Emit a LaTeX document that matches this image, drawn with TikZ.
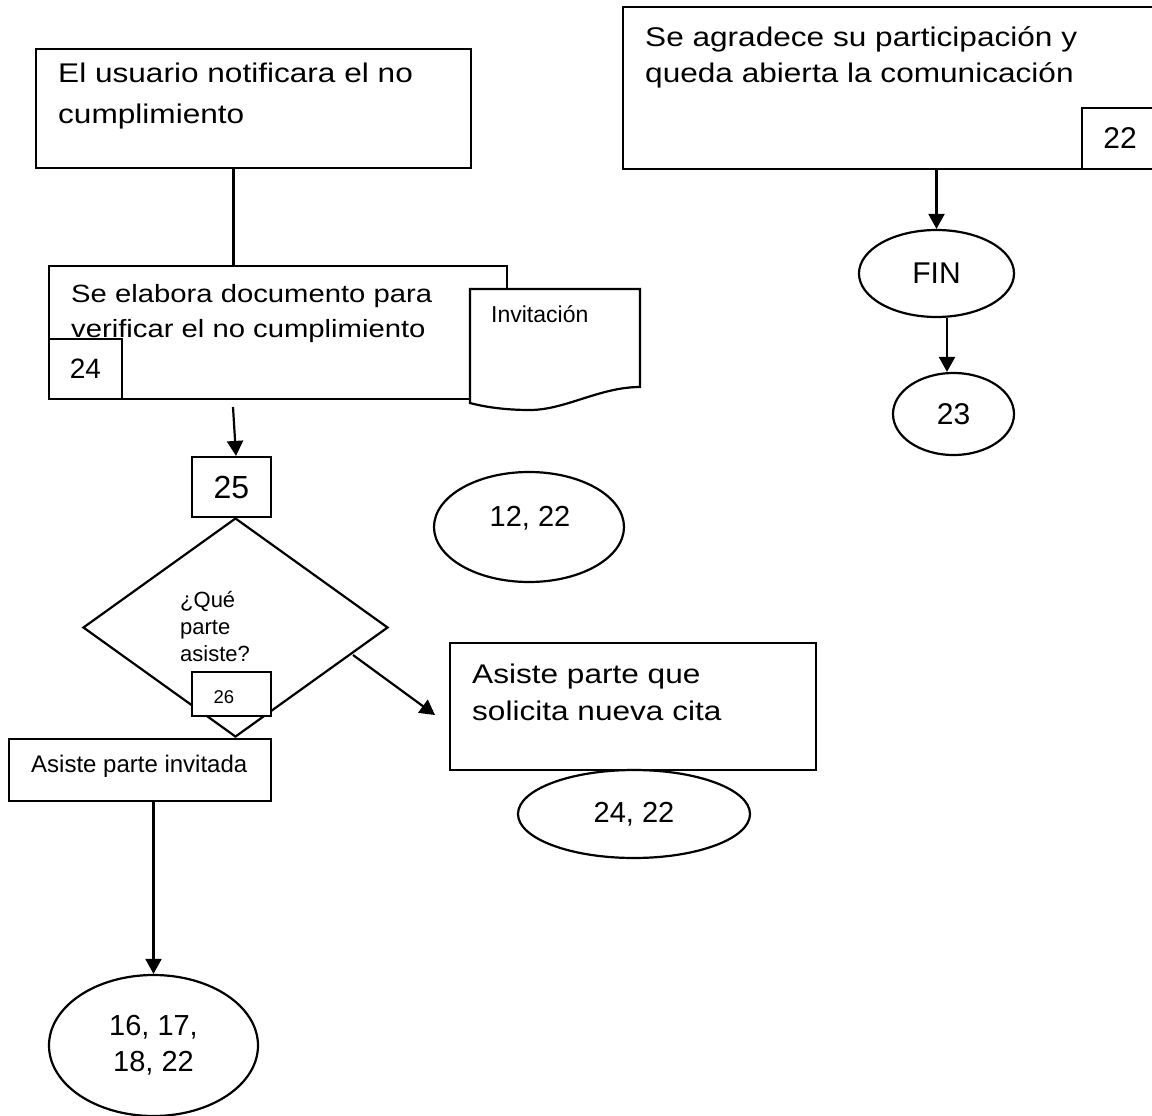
\documentclass[tikz,border=0pt]{standalone}
\usepackage{fontspec}
\setmainfont{Liberation Sans}
\newfontfamily\widefont[FakeStretch=1.17]{Liberation Sans}
\usetikzlibrary{arrows.meta, shapes.geometric}
\tikzset{
  outline/.style = {draw, fill=white, line width=2.2pt},
  box/.style     = {outline, rectangle, inner sep=0pt},
  oval/.style    = {outline, ellipse, inner sep=0pt},
  para/.style    = {anchor=base west, align=left, inner sep=0pt,
                    font=\widefont\fontsize{27}{38}\selectfont},
  parasm/.style  = {anchor=base west, align=left, inner sep=0pt,
                    font=\widefont\fontsize{25}{35}\selectfont},
  num/.style     = {font=\fontsize{29}{36}\selectfont, align=center},
  link/.style    = {line width=2.2pt},
  arrow/.style   = {-{Triangle[length=15pt, width=16pt]}, line width=2.2pt},
}

\begin{document}
\begin{tikzpicture}[x=1pt, y=-1pt]
  \useasboundingbox (0,0) rectangle (1152,1116);

  % left column: notification and document
  \node[box, minimum width=435pt, minimum height=119pt] (usuario) at (253.5,108.5) {};
  % (base of a multi-line node = its last line)
  \node[para, font=\widefont\fontsize{27}{40}\selectfont] (tusuario) at (58,123) {El usuario notificara el no\\cumplimiento};
  \coordinate (jA) at (233.5,0);
  \node[box, minimum width=458pt, minimum height=133pt] (elabora) at (278,332.5) {};
  \draw[link] (usuario.south -| jA) -- (elabora.north -| jA);
  \node[box, minimum width=73pt, minimum height=60pt, num, font=\fontsize{28}{34}\selectfont] (b24) at (85.5,369) {24};
  \node[parasm] (telabora) at (71,337) {Se elabora documento para\\verificar el no cumplimiento};
  % document symbol
  \draw[outline] (470,289) -- (640,289) -- (640,387)
    .. controls (600,387) and (565,410) .. (530,410)
    .. controls (505,410) and (485,407) .. (470,403) -- cycle;
  \node[anchor=base west, inner sep=0pt, font=\fontsize{23}{28}\selectfont] (tinv) at (491,322) {Invitación};

  % decision
  \node[box, minimum width=79pt, minimum height=60pt, font=\fontsize{32}{38}\selectfont] (b25) at (231.5,487) {25};
  \coordinate (a25) at (233,407);
  \draw[arrow] (a25) -- (b25.north -| 236,0);
  \node[outline, diamond, inner sep=0pt, minimum width=305pt, minimum height=219pt] (dec) at (235.5,627.5) {};
  \node[anchor=base west, align=left, inner sep=0pt, font=\fontsize{22}{27}\selectfont] (tdec) at (180,661) {¿Qué\\parte\\asiste?};
  \node[box, minimum width=79pt, minimum height=44pt] (b26) at (231.5,694) {};
  \node[font=\fontsize{18.5}{22}\selectfont, inner sep=0pt] (t26) at (224,697) {26};

  % invited party
  \node[box, minimum width=262pt, minimum height=62pt] (invitada) at (140,770) {};
  \node[anchor=base west, inner sep=0pt, font=\fontsize{24}{28}\selectfont] (tinvitada) at (31,772) {Asiste parte invitada};
  \node[oval, minimum width=209pt, minimum height=141pt, num] (e16) at (153.5,1045.5) {16, 17,\\18, 22};
  \draw[arrow] (invitada.south -| e16.north) -- (e16.north);

  % requesting party
  \coordinate (q1) at (353,655);
  \coordinate (q2) at (435,715);
  \draw[arrow] (q1) -- (q2);
  \node[box, minimum width=366pt, minimum height=127pt] (solicita) at (633,706.5) {};
  \node[para, font=\widefont\fontsize{27}{37}\selectfont] (tsolicita) at (472,720) {Asiste parte que\\solicita nueva cita};
  \node[oval, minimum width=232pt, minimum height=88pt, num] (e24) at (634,814) {24, 22};

  \node[oval, minimum width=190pt, minimum height=110pt] (e12) at (529,527) {};
  \node[num, inner sep=0pt] (t12) at (530,518) {12, 22};

  % right column: closing
  \node[box, minimum width=537pt, minimum height=162pt] (agradece) at (891.5,88) {};
  \node[para, font=\widefont\fontsize{27}{36}\selectfont] (tagradece) at (645,83) {Se agradece su participación y\\queda abierta la comunicación};
  \node[box, minimum width=76pt, minimum height=61pt, font=\fontsize{30}{36}\selectfont] (b22) at (1120,138.5) {22};
  \node[oval, minimum width=155pt, minimum height=87pt, font=\fontsize{30}{36}\selectfont] (fin) at (936.5,273.5) {FIN};
  \draw[arrow] (agradece.south -| fin.north) -- (fin.north);
  \node[oval, minimum width=121pt, minimum height=82pt, font=\fontsize{30}{36}\selectfont] (e23) at (953.5,414) {23};
  \coordinate (j23) at (947,0);
  \draw[arrow] (fin.south -| j23) -- (e23.north -| j23);
\end{tikzpicture}
\end{document}
